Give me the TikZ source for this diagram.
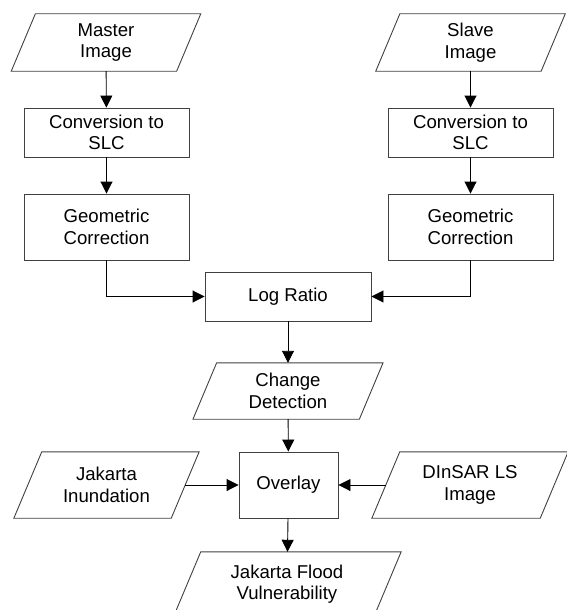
\documentclass[tikz,border=0pt]{standalone}
\usepackage{fontspec}
\setmainfont{Liberation Sans}
\usetikzlibrary{arrows.meta,calc}
\tikzset{
  every node/.style={font=\fontsize{18.6}{21.4}\selectfont, align=center, inner sep=0pt},
  procbox/.style={draw=black!75, line width=0.9pt, rectangle},
  iobox/.style={rectangle, draw=none},
  conn/.style={draw=black, line width=0.9pt, -{Triangle[length=12pt,width=12pt]}},
  shapeline/.style={draw=black!75, line width=0.9pt, line join=miter},
}
\begin{document}
\begin{tikzpicture}[x=1pt,y=-1pt]
\useasboundingbox (0,0) rectangle (567,610);
% input/output (parallelogram) nodes
\node[iobox, minimum width=165pt, minimum height=57pt] (master) at (106,42.5) {Master\\Image};
\node[iobox, minimum width=165pt, minimum height=57pt] (slave) at (470.5,42.5) {Slave\\Image};
% process boxes
\node[procbox, minimum width=165pt, minimum height=49pt] (conv1) at (106.5,132.5) {Conversion to\\SLC};
\node[procbox, minimum width=165pt, minimum height=49pt] (conv2) at (470.5,132.5) {Conversion to\\SLC};
\node[procbox, minimum width=165pt, minimum height=66pt] (geo1) at (106.5,227) {Geometric\\Correction};
\node[procbox, minimum width=165pt, minimum height=66pt] (geo2) at (470.5,227) {Geometric\\Correction};
\node[procbox, minimum width=166pt, minimum height=49pt] (log) at (288,296.5) {Log Ratio};
\node[iobox, minimum width=166pt, minimum height=56pt] (cd) at (288,391) {Change\\Detection};
\node[procbox, minimum width=99pt, minimum height=66pt] (overlay) at (288.5,485) {Overlay};
\node[iobox, minimum width=157pt, minimum height=66pt] (jak) at (106.5,485) {Jakarta\\Inundation};
\node[iobox, minimum width=168pt, minimum height=66pt] (dins) at (470,485) {DInSAR LS\\Image};
\node[iobox, minimum width=200pt, minimum height=66pt] (final) at (287,585) {\raisebox{4.5pt}{\begin{tabular}{@{}c@{}}Jakarta Flood\\Vulnerability\end{tabular}}};
% parallelogram outlines
\foreach \nm in {master,slave,cd,jak,dins,final}{
  \draw[shapeline] let \p1=(\nm.north), \p2=(\nm.south), \n1={0.21*abs(\y1-\y2)} in
    ([xshift=\n1]\nm.north west) -- ([xshift=\n1]\nm.north east) --
    ([xshift=-\n1]\nm.south east) -- ([xshift=-\n1]\nm.south west) -- cycle;
}
% connectors
\draw[conn] (master) -- (conv1);
\draw[conn] (slave) -- (conv2);
\draw[conn] (conv1) -- (geo1);
\draw[conn] (conv2) -- (geo2);
\draw[conn] (geo1.south) |- (log.west);
\draw[conn] (geo2.south) |- (log.east);
\draw[conn] (log) -- (cd);
\draw[conn] (cd) -- (overlay);
\draw[conn] (jak.east) -- (overlay.west);
\draw[conn] (dins.west) -- (overlay.east);
\draw[conn] (overlay) -- (final);
\end{tikzpicture}
\end{document}
